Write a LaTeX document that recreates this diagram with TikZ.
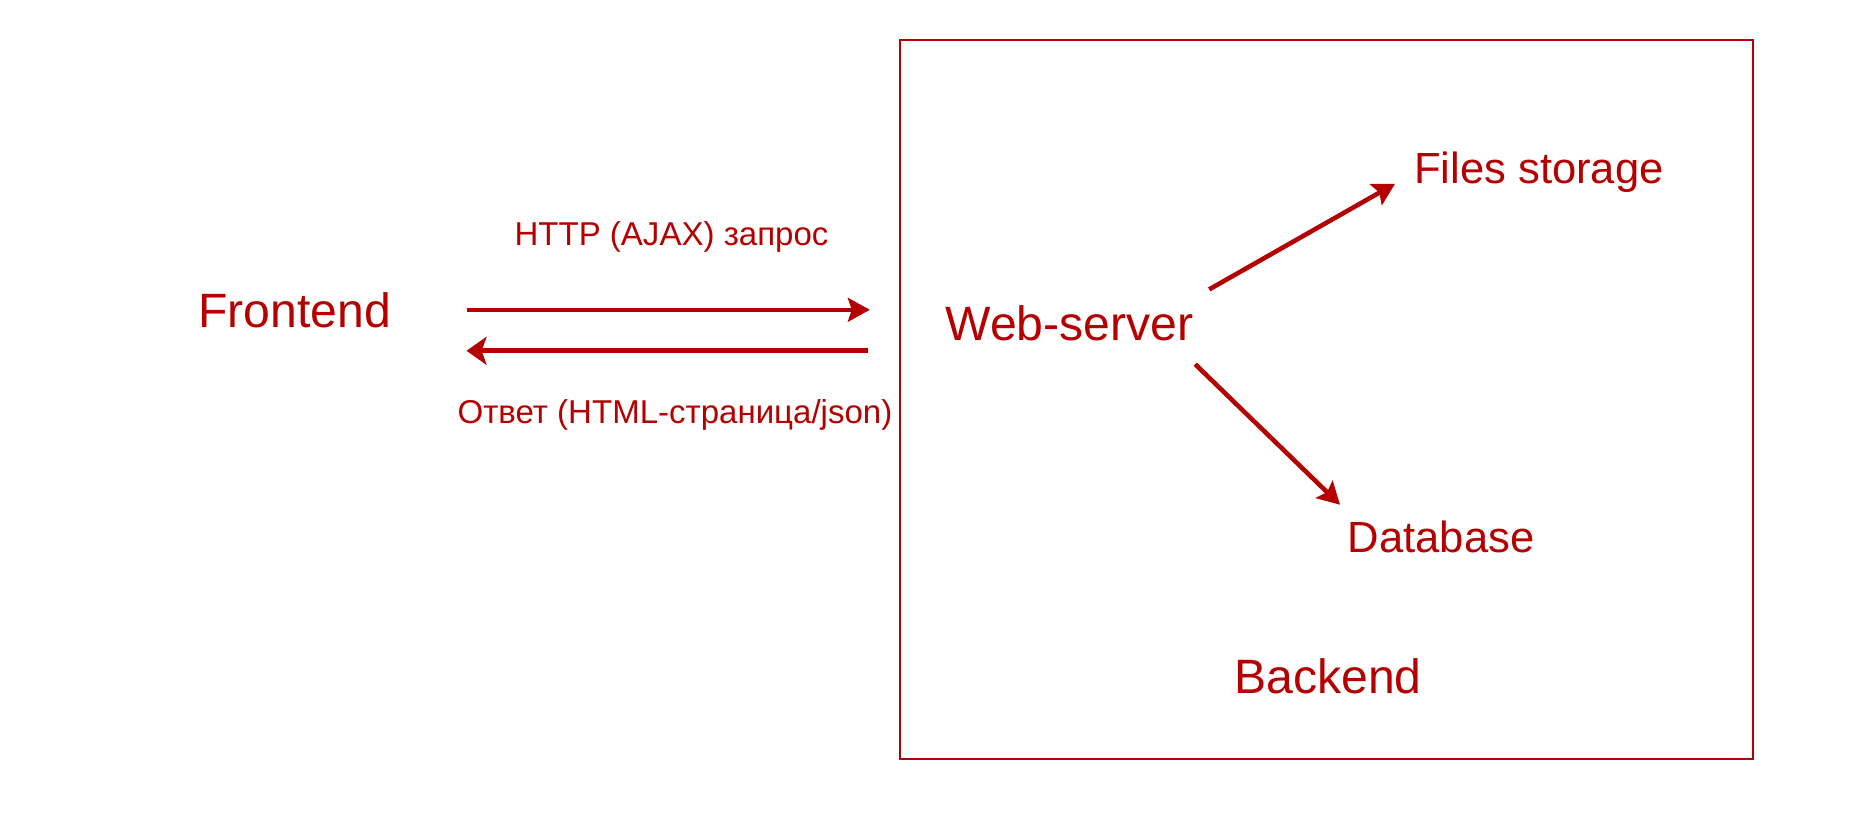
\documentclass[tikz,border=0pt]{standalone}
\usepackage{fontspec}
\setmainfont{Liberation Sans}
\usetikzlibrary{arrows.meta}
\definecolor{darkred}{RGB}{180,0,0}
\tikzset{
  block/.style={text=darkred, anchor=base, inner sep=1.5mm, font=\fontsize{13.7}{16}\selectfont},
  part/.style={block, font=\fontsize{12.4}{15}\selectfont},
  msg/.style={block, font=\fontsize{9.4}{11}\selectfont},
  flow/.style={draw=darkred, line width=1pt, -{Stealth[length=2.2mm, width=2.4mm, inset=0.4mm]}},
  back/.style={flow, line width=1.4pt, -{Stealth[length=2mm, width=2.8mm, inset=0.5mm]}}
}
\begin{document}
\begin{tikzpicture}
  \useasboundingbox (0,0) rectangle (18.52,-8.33);
  % backend box
  \draw[darkred, line width=0.6pt] (9.00,-0.40) rectangle (17.53,-7.59);
  \node[block] (fe) at (2.945,-3.27) {Frontend};
  \node[block] (ws) at (10.695,-3.40) {Web-server};
  \node[part] (fs) at (15.39,-1.83) {Files storage};
  \node[part] (db) at (14.41,-5.52) {Database};
  \node[block] (be) at (13.28,-6.93) {Backend};
  \node[msg] (ajax) at (6.715,-2.45) {HTTP (AJAX) запрос};
  \node[msg] (resp) at (6.75,-4.23) {Ответ (HTML-страница/json)};
  % request and response
  \coordinate (fe-r) at ([yshift=-4.1mm]fe.east);
  \draw[flow, shorten <=6mm, shorten >=6mm] (fe.east) -- (fe.east -| ws.west);
  \draw[back, shorten >=6mm, shorten <=6.2mm] (fe-r -| ws.west) -- (fe-r);
  % inside the backend
  \draw[flow, line width=1.3pt, shorten >=0.4mm] (ws.north east) -- ([yshift=-1mm]fs.west);
  \draw[flow, line width=1.3pt] ([xshift=-1.4mm,yshift=-0.8mm]ws.south east) -- ([xshift=0.8mm]db.north west);
\end{tikzpicture}
\end{document}
